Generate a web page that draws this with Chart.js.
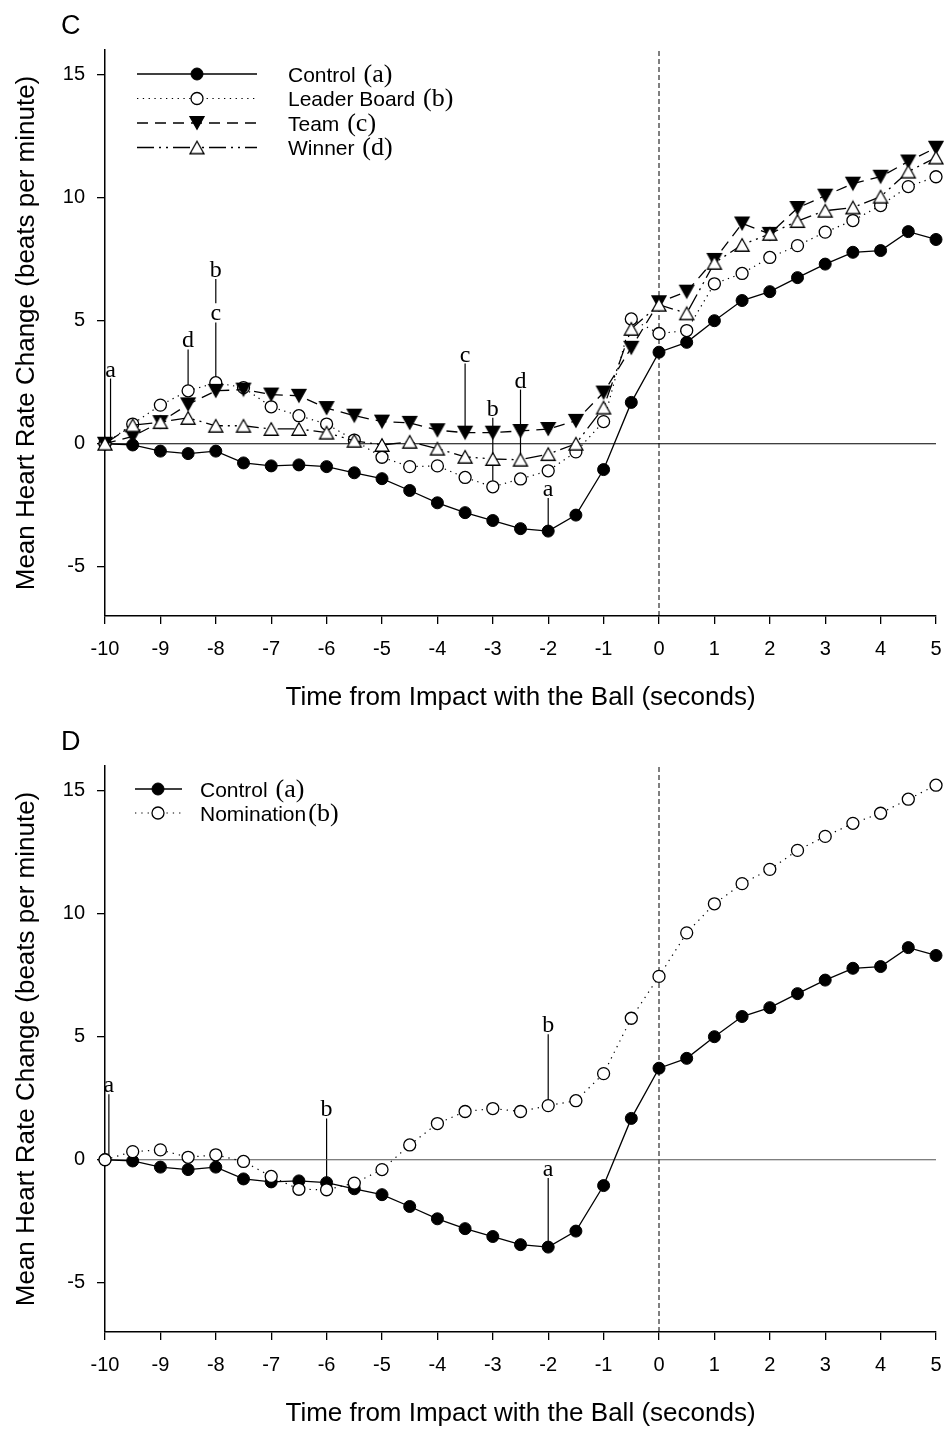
<!DOCTYPE html>
<html>
<head>
<meta charset="utf-8">
<script src="https://cdn.jsdelivr.net/npm/chart.js@4.4.0/dist/chart.umd.min.js"></script>
<style>
  body { margin: 0; background: #fff; }
  canvas { position: absolute; left: 0; }
</style>
</head>
<body>
<canvas id="chartC" style="top:0" width="947" height="714"></canvas>
<canvas id="chartD" style="top:716px" width="947" height="714"></canvas>
<script>
// time points (seconds from impact)
const times = [-10, -9.5, -9, -8.5, -8, -7.5, -7, -6.5, -6, -5.5, -5, -4.5, -4, -3.5, -3, -2.5,
               -2, -1.5, -1, -0.5, 0, 0.5, 1, 1.5, 2, 2.5, 3, 3.5, 4, 4.5, 5];

// mean heart rate change (beats per minute)
const controlValues = [0, -0.05, -0.3, -0.4, -0.3, -0.78, -0.9, -0.86, -0.93, -1.18, -1.42, -1.9, -2.4, -2.8, -3.12, -3.45,
                       -3.55, -2.9, -1.05, 1.68, 3.72, 4.12, 5.0, 5.82, 6.18, 6.75, 7.3, 7.78, 7.85, 8.62, 8.3];
const leaderBoardValues = [0, 0.8, 1.57, 2.15, 2.48, 2.28, 1.5, 1.14, 0.8, 0.15, -0.55, -0.93, -0.9, -1.37, -1.75, -1.43,
                           -1.1, -0.33, 0.9, 5.07, 4.48, 4.6, 6.5, 6.92, 7.57, 8.05, 8.6, 9.07, 9.68, 10.45, 10.85];
const teamValues = [0, 0.3, 0.88, 1.6, 2.15, 2.2, 2.0, 1.95, 1.45, 1.14, 0.9, 0.85, 0.55, 0.45, 0.45, 0.52,
                    0.6, 0.93, 2.08, 3.9, 5.75, 6.18, 7.47, 8.95, 8.53, 9.58, 10.08, 10.57, 10.85, 11.47, 12.03];
const winnerValues = [0, 0.75, 0.88, 1.05, 0.73, 0.73, 0.6, 0.6, 0.45, 0.12, -0.05, 0.08, -0.2, -0.53, -0.62, -0.65,
                      -0.42, 0, 1.47, 4.67, 5.65, 5.3, 7.35, 8.08, 8.53, 9.05, 9.47, 9.6, 10.04, 11.06, 11.63];
const nominationValues = [0, 0.33, 0.4, 0.1, 0.2, -0.07, -0.68, -1.2, -1.22, -0.95, -0.4, 0.6, 1.47, 1.96, 2.08, 1.96,
                          2.2, 2.4, 3.5, 5.75, 7.45, 9.22, 10.4, 11.22, 11.8, 12.57, 13.14, 13.67, 14.08, 14.65, 15.22];

const xTicks = [-10, -9, -8, -7, -6, -5, -4, -3, -2, -1, 0, 1, 2, 3, 4, 5];
const yTicks = [-5, 0, 5, 10, 15];

// significance letters: label, x, bottom and top of the stem
const annLabelsC = ['a', 'd', 'c', 'b', 'c', 'b', 'd', 'a'];
const annXC      = [-9.9, -8.5, -8, -8, -3.5, -3, -2.5, -2];
const annLowC    = [0, 2.15, 2.48, 5.71, 0.45, -1.75, -0.65, -3.55];
const annHighC   = [2.65, 3.83, 4.93, 6.69, 3.26, 1.06, 2.2, -2.2];

const annLabelsD = ['a', 'b', 'b', 'a'];
const annXD      = [-9.93, -6, -2, -2];
const annLowD    = [0, -0.93, 2.2, -3.55];
const annHighD   = [2.66, 1.68, 5.1, -0.74];

const SANS = '"Liberation Sans", Arial, Helvetica, sans-serif';
const SERIF = '"Liberation Serif", "Times New Roman", serif';

Chart.defaults.font.family = SANS;
Chart.defaults.color = '#000';

// triangles centred on their bounding box, like the original plot
function makeTriangle(down, filled) {
    const c = document.createElement('canvas');
    c.width = 18; c.height = 16;
    const g = c.getContext('2d');
    const cx = 9, cy = 8, w = 14, h = 12.5;
    g.beginPath();
    if (down) {
        g.moveTo(cx - w / 2, cy - h / 2); g.lineTo(cx + w / 2, cy - h / 2); g.lineTo(cx, cy + h / 2);
    } else {
        g.moveTo(cx, cy - h / 2); g.lineTo(cx + w / 2, cy + h / 2); g.lineTo(cx - w / 2, cy + h / 2);
    }
    g.closePath();
    g.fillStyle = filled ? '#000' : '#fff';
    g.fill();
    g.lineWidth = 1.3;
    g.strokeStyle = '#000';
    g.stroke();
    return c;
}
const triDownFilled = makeTriangle(true, true);
const triUpOpen = makeTriangle(false, false);

function pts(values) {
    return times.map((t, i) => ({ x: t, y: values[i] }));
}

function series(label, values, style) {
    return Object.assign({
        label: label,
        data: pts(values),
        borderColor: '#000',
        borderWidth: 1.3,
        pointBorderColor: '#000',
        tension: 0,
        clip: false
    }, style);
}

const filledCircle = { pointStyle: 'circle', pointRadius: 6, pointBackgroundColor: '#000', pointBorderWidth: 1 };
const openCircle = { pointStyle: 'circle', pointRadius: 6, pointBackgroundColor: '#fff', pointBorderWidth: 1.3 };

function refLines(zeroColor) {
    return [
        { label: 'zero', data: [{ x: -10, y: 0 }, { x: 5, y: 0 }], borderColor: zeroColor, borderWidth: 1.2,
          pointRadius: 0, order: 10, clip: false },
        { label: 'impact', data: [{ x: 0, y: -7 }, { x: 0, y: 16 }], borderColor: '#000', borderWidth: 1,
          borderDash: [5, 3], pointRadius: 0, order: 11, clip: false }
    ];
}

const decorPlugin = {
    id: 'panelDecor',
    beforeDatasetsDraw(chart, args, opts) {
        const { ctx, scales: { x, y } } = chart;
        ctx.save();
        ctx.strokeStyle = '#000';
        ctx.lineWidth = 1.2;
        opts.annLabels.forEach((lab, i) => {
            const px = x.getPixelForValue(opts.annX[i]);
            ctx.beginPath();
            ctx.moveTo(px, y.getPixelForValue(opts.annLow[i]));
            ctx.lineTo(px, y.getPixelForValue(opts.annHigh[i]));
            ctx.stroke();
        });
        ctx.restore();
    },
    afterDatasetsDraw(chart, args, opts) {
        const { ctx, scales: { x, y } } = chart;
        ctx.save();
        ctx.fillStyle = '#000';
        ctx.font = '24px ' + SERIF;
        ctx.textAlign = 'center';
        ctx.textBaseline = 'alphabetic';
        opts.annLabels.forEach((lab, i) => {
            ctx.fillText(lab, x.getPixelForValue(opts.annX[i]), y.getPixelForValue(opts.annHigh[i]) - 2);
        });

        // panel letter
        ctx.textAlign = 'left';
        ctx.textBaseline = 'middle';
        ctx.font = '27px ' + SANS;
        ctx.fillText(opts.letter, 61, 27);

        // legend
        const lg = opts.legend;
        lg.names.forEach((name, i) => {
            const ds = chart.data.datasets[i];
            const yy = lg.rowY0 + i * lg.rowGap;
            ctx.strokeStyle = '#000';
            ctx.lineWidth = ds.borderWidth;
            ctx.setLineDash(ds.borderDash || []);
            ctx.beginPath();
            ctx.moveTo(lg.x0, yy);
            ctx.lineTo(lg.x1, yy);
            ctx.stroke();
            ctx.setLineDash([]);
            ctx.fillStyle = ds.pointBackgroundColor || '#000';
            ctx.lineWidth = ds.pointBorderWidth || 1;
            Chart.helpers.drawPoint(ctx, { pointStyle: ds.pointStyle, radius: ds.pointRadius, rotation: 0,
                                           borderWidth: ds.pointBorderWidth || 1 }, lg.mx, yy);
            ctx.fillStyle = '#000';
            ctx.textBaseline = 'alphabetic';
            ctx.font = '21px ' + SANS;
            ctx.fillText(name, lg.textX, yy + 7.5);
            const w = ctx.measureText(name).width;
            ctx.font = '26px ' + SERIF;
            ctx.fillText(lg.tags[i], lg.textX + w + 2, yy + 7.5);
        });
        ctx.restore();
    }
};

function makeChart(canvasId, datasets, decor) {
    return new Chart(document.getElementById(canvasId), {
        type: 'line',
        data: { datasets: datasets },
        options: {
            responsive: false,
            animation: false,
            events: [],
            layout: { padding: { left: 0, right: 11, top: 50, bottom: 0 } },
            plugins: {
                legend: { display: false },
                tooltip: { enabled: false },
                panelDecor: decor
            },
            scales: {
                x: {
                    type: 'linear',
                    min: -10,
                    max: 5,
                    afterBuildTicks: (s) => { s.ticks = xTicks.map(v => ({ value: v })); },
                    afterFit: (s) => { s.height = 98; s.paddingLeft = 0; s.paddingRight = 0; },
                    ticks: { font: { size: 20 }, color: '#000', padding: 13, autoSkip: false, maxRotation: 0,
                             callback: (v) => String(v) },
                    grid: { drawOnChartArea: false, drawTicks: true, tickLength: 8, color: '#000', lineWidth: 1.3 },
                    border: { display: true, color: '#000', width: 1.5 },
                    title: { display: true, text: 'Time from Impact with the Ball (seconds)', font: { size: 26 },
                             color: '#000', padding: { top: 0, bottom: 1 } }
                },
                y: {
                    type: 'linear',
                    min: -7,
                    max: 16,
                    afterBuildTicks: (s) => { s.ticks = yTicks.map(v => ({ value: v })); },
                    afterFit: (s) => { s.width = 105; },
                    ticks: { font: { size: 20 }, color: '#000', padding: 12, callback: (v) => String(v) },
                    grid: { drawOnChartArea: false, drawTicks: true, tickLength: 8, color: '#000', lineWidth: 1.3 },
                    border: { display: true, color: '#000', width: 1.5 },
                    title: { display: true, text: 'Mean Heart Rate Change (beats per minute)', font: { size: 26 },
                             color: '#000', padding: { top: 11, bottom: 0 } }
                }
            }
        },
        plugins: [decorPlugin]
    });
}

// Panel C
makeChart('chartC', [
    series('Control', controlValues, Object.assign({ order: 3 }, filledCircle)),
    series('Leader Board', leaderBoardValues, Object.assign({ order: 2, borderWidth: 1.2, borderDash: [1.3, 4.5] }, openCircle)),
    series('Team', teamValues, { order: 1, borderDash: [11, 7], pointStyle: triDownFilled, pointRadius: 7 }),
    series('Winner', winnerValues, { order: 0, borderDash: [17, 5, 2, 5, 2, 5], pointStyle: triUpOpen, pointRadius: 7 })
].concat(refLines('#000')), {
    letter: 'C',
    annLabels: annLabelsC, annX: annXC, annLow: annLowC, annHigh: annHighC,
    legend: { names: ['Control ', 'Leader Board ', 'Team ', 'Winner '], tags: ['(a)', '(b)', '(c)', '(d)'],
              x0: 137, x1: 257, mx: 197, textX: 288, rowY0: 74, rowGap: 24.5 }
});

// Panel D
makeChart('chartD', [
    series('Control', controlValues, Object.assign({ order: 1 }, filledCircle)),
    series('Nomination', nominationValues, Object.assign({ order: 0, borderWidth: 1.2, borderDash: [1.3, 5] }, openCircle))
].concat(refLines('#555')), {
    letter: 'D',
    annLabels: annLabelsD, annX: annXD, annLow: annLowD, annHigh: annHighD,
    legend: { names: ['Control ', 'Nomination'], tags: ['(a)', '(b)'],
              x0: 135, x1: 182, mx: 158, textX: 200, rowY0: 73, rowGap: 24 }
});
</script>
</body>
</html>
